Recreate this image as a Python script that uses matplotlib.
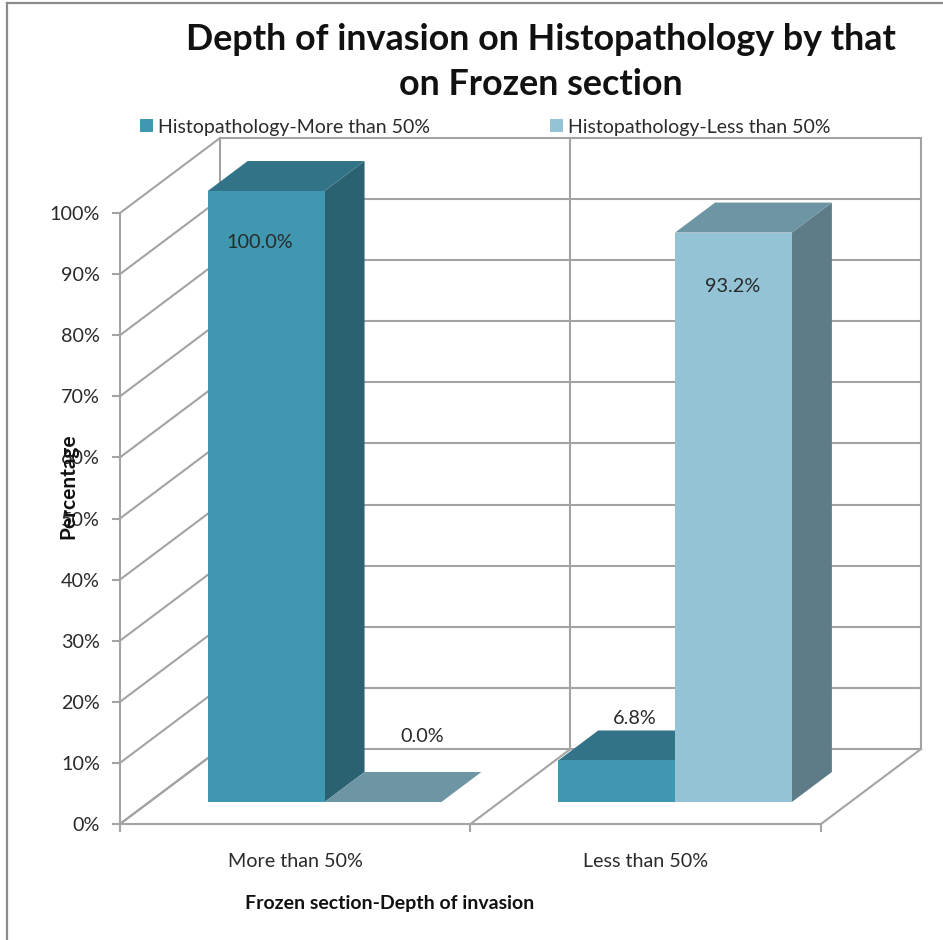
import matplotlib
matplotlib.use("Agg")
import matplotlib.pyplot as plt
from matplotlib.lines import Line2D
from matplotlib.patches import Patch, Polygon

categories = ["More than 50%", "Less than 50%"]
more_than_50 = [100.0, 6.8]
less_than_50 = [0.0, 93.2]
series_names = ["Histopathology-More than 50%", "Histopathology-Less than 50%"]
y_ticks = [0, 10, 20, 30, 40, 50, 60, 70, 80, 90, 100]

W, H = 943, 940
plt.rcParams["font.family"] = ["Lato", "DejaVu Sans"]

GRID = "#a3a3a3"
TEXT = "#2a2a2a"
# front, top, side shades of each series
MORE_COLORS = ("#4097b0", "#327387", "#2b6272")
LESS_COLORS = ("#93c3d5", "#6d95a3", "#5d7c88")

fig = plt.figure(figsize=(W / 100, H / 100), dpi=100)
ax = fig.add_axes([120 / W, (H - 824) / H, 701 / W, 611 / H])
ax.set_xlim(0, 2)
ax.set_ylim(0, 100)
ax.patch.set_visible(False)

# depth of the box in data units, used for the oblique projection
DX = 100 / 350.5
DY = 75 / 6.11
BAR_W = 1 / 3
BAR_GAP = 1 / 6
BAR_D0 = 0.293
BAR_D1 = 0.693


def project(x, y, d):
    return (x + d * DX, y + d * DY)


def wall_line(p0, p1):
    ax.add_line(Line2D([p0[0], p1[0]], [p0[1], p1[1]], color=GRID, lw=1.5,
                       clip_on=False, zorder=1))


# back wall and side wall gridlines
for v in y_ticks:
    wall_line(project(0, v, 0), project(0, v, 1))
    wall_line(project(0, v, 1), project(2, v, 1))
# floor and back wall verticals
for x in range(3):
    wall_line(project(x, 0, 0), project(x, 0, 1))
    wall_line(project(x, 0, 1), project(x, 100, 1))


def draw_bar(x0, value, colors):
    x1 = x0 + BAR_W
    front, top, side = colors
    z = 3
    if value > 0:
        ax.add_patch(Polygon([project(x1, 0, BAR_D0), project(x1, 0, BAR_D1),
                              project(x1, value, BAR_D1), project(x1, value, BAR_D0)],
                             fc=side, ec="none", clip_on=False, zorder=z))
        ax.add_patch(Polygon([project(x0, 0, BAR_D0), project(x1, 0, BAR_D0),
                              project(x1, value, BAR_D0), project(x0, value, BAR_D0)],
                             fc=front, ec="none", clip_on=False, zorder=z + 1))
    ax.add_patch(Polygon([project(x0, value, BAR_D0), project(x1, value, BAR_D0),
                          project(x1, value, BAR_D1), project(x0, value, BAR_D1)],
                         fc=top, ec="none", clip_on=False, zorder=z))


for i in range(len(categories)):
    draw_bar(i + BAR_GAP, more_than_50[i], MORE_COLORS)
    draw_bar(i + BAR_GAP + BAR_W, less_than_50[i], LESS_COLORS)


def value_label(x, value, dx, dy):
    px, py = project(x, value, BAR_D0)
    ax.annotate(f"{value:.1f}%", (px, py), xytext=(dx, dy), textcoords="offset pixels",
                ha="center", va="center", fontsize=14.3, color=TEXT, zorder=6,
                annotation_clip=False)


value_label(0 + BAR_GAP + BAR_W / 2, more_than_50[0], -6, -51)
value_label(0 + BAR_GAP + 3 * BAR_W / 2, less_than_50[0], 39, 66)
value_label(1 + BAR_GAP + BAR_W / 2, more_than_50[1], 18, 42)
value_label(1 + BAR_GAP + 3 * BAR_W / 2, less_than_50[1], -1, -54)

# axes
for name in ("top", "right"):
    ax.spines[name].set_visible(False)
for name in ("left", "bottom"):
    ax.spines[name].set_color(GRID)
    ax.spines[name].set_linewidth(1.5)
    ax.spines[name].set_zorder(2)

ax.set_yticks(y_ticks)
ax.set_yticklabels([f"{v}%" for v in y_ticks])
ax.set_xticks([0, 1, 2])
ax.set_xticklabels([])
ax.set_xticks([0.5, 1.5], minor=True)
ax.set_xticklabels(categories, minor=True)
ax.tick_params(axis="both", which="major", color=GRID, width=1.5, length=6)
ax.tick_params(axis="x", which="minor", length=0, pad=21, labelsize=14.2, labelcolor=TEXT)
ax.tick_params(axis="y", labelsize=14.2, labelcolor=TEXT, pad=8.5)

fig.text(390 / W, (H - 903) / H, "Frozen section-Depth of invasion", ha="center", va="center",
         fontsize=14, fontweight="bold", color="#111111")
fig.text(68 / W, (H - 486) / H, "Percentage", rotation=90, ha="center", va="center",
         fontsize=15, fontweight="bold", color="#111111", zorder=7)

fig.text(541 / W, (H - 62) / H, "Depth of invasion on Histopathology by that\non Frozen section",
         ha="center", va="center", fontsize=25.8, fontweight="bold", color="#111111",
         linespacing=1.43)

handles = [Patch(fc=MORE_COLORS[0], ec="none"), Patch(fc=LESS_COLORS[0], ec="none")]
fig.legend(handles, series_names, ncol=2, frameon=False, loc="center left",
           bbox_to_anchor=(140 / W, (H - 127) / H), fontsize=14, labelcolor=TEXT,
           handlelength=0.67, handleheight=0.67, handletextpad=0.26, columnspacing=6.15,
           borderpad=0.0, borderaxespad=0.0)

# outer chart frame, only left and top edges show
fig.add_artist(Line2D([7 / W, 7 / W], [0, (H - 3) / H], color="#8c8c8c", lw=1.6))
fig.add_artist(Line2D([7 / W, 1], [(H - 3) / H, (H - 3) / H], color="#8c8c8c", lw=1.6))

fig.savefig("out.png", dpi=100)
plt.close(fig)
